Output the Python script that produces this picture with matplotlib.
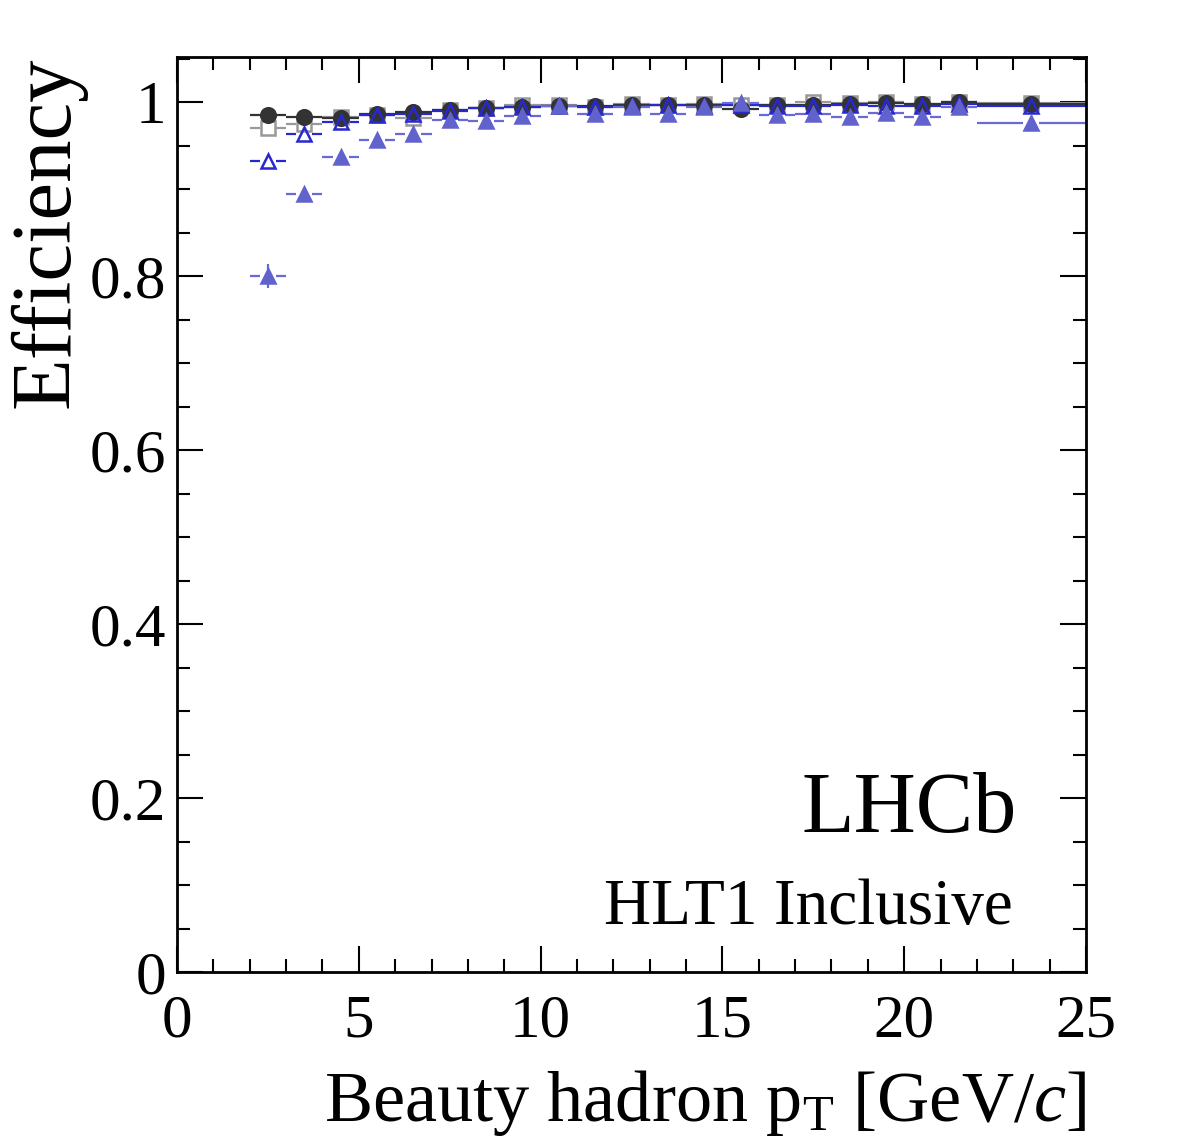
import numpy as np
import matplotlib
matplotlib.use("Agg")
import matplotlib.pyplot as plt
from matplotlib.ticker import MultipleLocator

plt.rcParams['font.family'] = ['Liberation Serif', 'DejaVu Serif']
plt.rcParams['mathtext.fontset'] = 'custom'
plt.rcParams['mathtext.rm'] = 'Liberation Serif'
plt.rcParams['mathtext.it'] = 'Liberation Serif:italic'

# bins in beauty hadron pT [GeV/c]
bin_lo = [2, 3, 4, 5, 6, 7, 8, 9, 10, 11, 12, 13, 14, 15, 16, 17, 18, 19, 20, 21, 22]
bin_hi = [3, 4, 5, 6, 7, 8, 9, 10, 11, 12, 13, 14, 15, 16, 17, 18, 19, 20, 21, 22, 25]

eff_circle = [0.985, 0.983, 0.982, 0.986, 0.989, 0.991, 0.993, 0.995, 0.996, 0.996, 0.997,
              0.997, 0.997, 0.992, 0.997, 0.997, 0.998, 0.999, 0.998, 1.000, 0.998]
eff_square = [0.970, 0.975, 0.983, 0.985, 0.982, 0.991, 0.993, 0.997, 0.997, 0.995, 0.998,
              0.997, 0.998, 0.997, 0.997, 1.000, 0.999, 1.000, 0.998, 1.000, 0.999]
eff_open_tri = [0.933, 0.963, 0.977, 0.985, 0.987, 0.990, 0.993, 0.994, 0.996, 0.995, 0.996,
                0.997, 0.996, 0.997, 0.996, 0.996, 0.997, 0.996, 0.996, 0.998, 0.996]
eff_filled_tri = [0.800, 0.895, 0.937, 0.956, 0.964, 0.979, 0.978, 0.984, 0.996, 0.987, 0.994,
                  0.987, 0.994, 0.999, 0.985, 0.987, 0.983, 0.988, 0.983, 0.994, 0.976]
err_filled_tri = [0.014, 0.006, 0.004, 0.003, 0.003, 0.002, 0.002, 0.002, 0.002, 0.002, 0.002,
                  0.002, 0.002, 0.002, 0.002, 0.002, 0.002, 0.002, 0.002, 0.002, 0.002]

x_lo = np.array(bin_lo, float)
x_hi = np.array(bin_hi, float)
xc = 0.5 * (x_lo + x_hi)

fig = plt.figure(figsize=(11.82, 11.46), dpi=100)
ax = fig.add_axes([177/1182, 1 - 972/1146, (1086-177)/1182, (972-57)/1146])

gap = 0.22

series = [
    (eff_square, 's', '#999999', 'none', '#999999', None),
    (eff_circle, 'o', '#333333', '#333333', '#333333', None),
    (eff_open_tri, '^', '#2828d0', 'none', '#2828d0', None),
    (eff_filled_tri, '^', '#6262cc', '#6262cc', '#6a6ad4', err_filled_tri),
]
for vals, mk, mec, mfc, lc, yerr in series:
    y = np.array(vals)
    ax.hlines(y, x_lo, xc - gap, colors=lc, lw=1.6, zorder=2)
    ax.hlines(y, xc + gap, x_hi, colors=lc, lw=1.6, zorder=2)
    if yerr is not None:
        ax.errorbar(xc, y, yerr=yerr, fmt='none', ecolor=lc, elinewidth=1.6, zorder=2)
    ax.plot(xc, y, linestyle='none', marker=mk, markersize=10.5, markeredgecolor=mec,
            markerfacecolor=mfc, markeredgewidth=1.8, zorder=3)

ax.set_xlim(0, 25)
ax.set_ylim(0, 1.052)
ax.xaxis.set_major_locator(MultipleLocator(5))
ax.xaxis.set_minor_locator(MultipleLocator(1))
ax.yaxis.set_major_locator(MultipleLocator(0.2))
ax.yaxis.set_minor_locator(MultipleLocator(0.05))
ax.set_xticks([0, 5, 10, 15, 20, 25])
ax.set_xticklabels(['0', '5', '10', '15', '20', '25'])
ax.set_yticks([0, 0.2, 0.4, 0.6, 0.8, 1.0])
ax.set_yticklabels(['0', '0.2', '0.4', '0.6', '0.8', '1'])

ax.tick_params(which='both', direction='in', top=True, right=True, width=1.5)
ax.tick_params(which='major', length=19, labelsize=44)
ax.tick_params(which='minor', length=9.5)
ax.tick_params(axis='x', which='major', pad=16)
ax.tick_params(axis='y', which='major', pad=8)
for s in ax.spines.values():
    s.set_linewidth(2)

ax.set_xlabel(r'Beauty hadron p$_{\mathrm{T}}$ [GeV/$c$]', fontsize=52, loc='right')
ax.xaxis.set_label_coords(1.0, -0.163)
ax.xaxis.label.set_va('baseline')
ax.set_ylabel('Efficiency', fontsize=61, loc='top')
ax.yaxis.set_label_coords(-0.100, 1.0)

ax.text(0.924, 0.153, 'LHCb', transform=ax.transAxes, fontsize=62, ha='right', va='baseline')
ax.text(0.919, 0.053, 'HLT1 Inclusive', transform=ax.transAxes, fontsize=47, ha='right', va='baseline')

fig.savefig('out.png', dpi=100)
